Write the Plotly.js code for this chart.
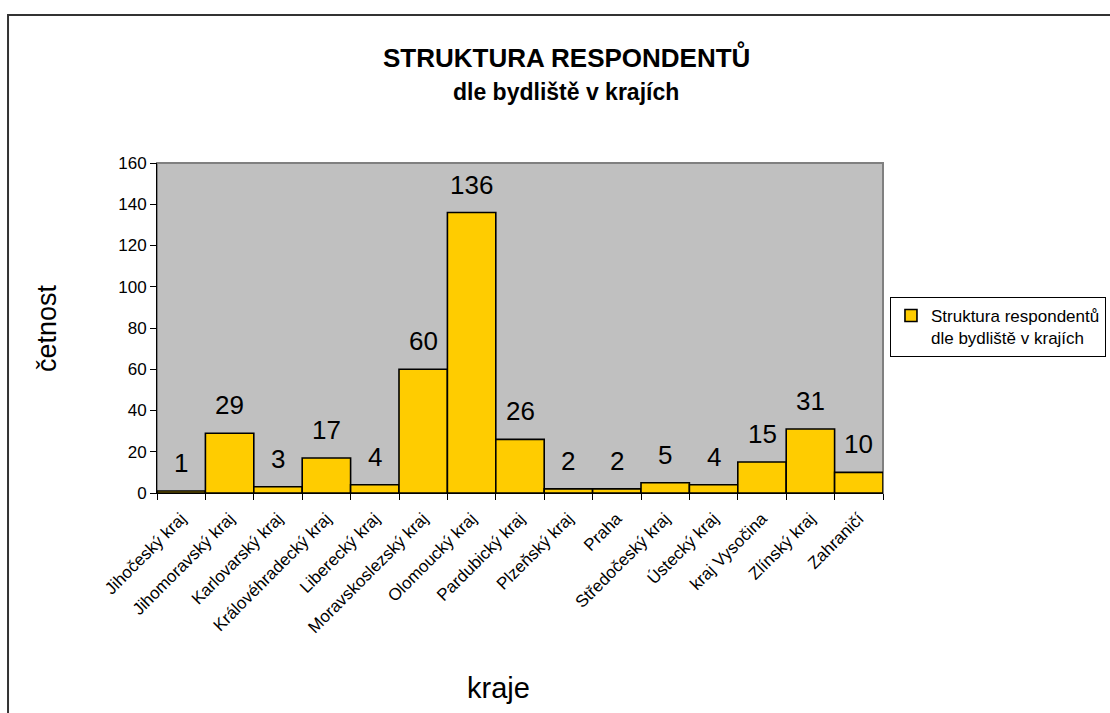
<!DOCTYPE html>
<html>
<head>
<meta charset="utf-8">
<script src="https://cdn.plot.ly/plotly-3.0.1.min.js"></script>
<style>html,body{margin:0;padding:0;background:#fff;}#chart{width:1110px;height:713px;}</style>
</head>
<body>
<div id="chart"></div>
<script>
const categories = ["Jihočeský kraj","Jihomoravský kraj","Karlovarský kraj","Královéhradecký kraj","Liberecký kraj","Moravskoslezský kraj","Olomoucký kraj","Pardubický kraj","Plzeňský kraj","Praha","Středočeský kraj","Ústecký kraj","kraj Vysočina","Zlínský kraj","Zahraničí"];
const counts = [1,29,3,17,4,60,136,26,2,2,5,4,15,31,10];
const yTicks = [0,20,40,60,80,100,120,140,160];
const seriesName = "Struktura respondentů<br>dle bydliště v krajích";

const FONT = "Liberation Sans, Arial, sans-serif";

const trace = {
  type: 'bar',
  x: categories,
  y: counts,
  name: seriesName,
  marker: {color: '#FFCC00', line: {color: '#000', width: 1.6}},
  showlegend: true,
  hoverinfo: 'none'
};

const valueLabels = categories.map((c, i) => ({
  x: c, y: counts[i], xref: 'x', yref: 'y',
  text: String(counts[i]), showarrow: false,
  xanchor: 'center', yanchor: 'bottom', yshift: 11,
  font: {family: FONT, size: 26, color: '#000'}
}));

const layout = {
  width: 1110, height: 713,
  margin: {l: 157, r: 227, t: 163, b: 220, autoexpand: false},
  paper_bgcolor: '#fff',
  plot_bgcolor: '#C0C0C0',
  bargap: 0,
  font: {family: FONT, color: '#000'},
  showlegend: true,
  legend: {
    x: 1.0096, y: 0.594, xanchor: 'left', yanchor: 'top',
    bordercolor: '#000', borderwidth: 1, bgcolor: '#fff',
    font: {family: FONT, size: 17, color: '#000'},
    itemwidth: 30, valign: 'top'
  },
  xaxis: {
    type: 'category',
    tickangle: -45,
    tickson: 'boundaries',
    ticks: 'outside', ticklen: 6, tickcolor: '#000',
    ticklabelstandoff: 8,
    showline: true, linecolor: '#000', linewidth: 1,
    showgrid: false,
    tickfont: {family: FONT, size: 17, color: '#000'},
    automargin: false,
    fixedrange: true
  },
  yaxis: {
    range: [0, 160],
    tickvals: yTicks,
    ticktext: yTicks.map(String),
    ticks: 'outside', ticklen: 6, tickcolor: '#000',
    showline: true, linecolor: '#000', linewidth: 1,
    showgrid: false, zeroline: false,
    tickfont: {family: FONT, size: 17, color: '#000'},
    automargin: false,
    fixedrange: true
  },
  shapes: [
    {type: 'rect', xref: 'paper', yref: 'paper', x0: 0, x1: 1, y0: 0, y1: 1,
     line: {color: '#808080', width: 2}, layer: 'below'},
    {type: 'rect', xref: 'paper', yref: 'paper', x0: -0.2052, x1: 2, y0: -1, y1: 1.4485,
     line: {color: '#333', width: 2}, layer: 'above'}
  ],
  annotations: [
    {text: '<b>STRUKTURA RESPONDENTŮ</b>', xref: 'paper', yref: 'paper', x: 0.5634, y: 1.321,
     xanchor: 'center', yanchor: 'middle',
     showarrow: false, font: {family: FONT, size: 26, color: '#000'}},
    {text: '<b>dle bydliště v krajích</b>', xref: 'paper', yref: 'paper', x: 0.5634, y: 1.215,
     xanchor: 'center', yanchor: 'middle',
     showarrow: false, font: {family: FONT, size: 23, color: '#000'}},
    {text: 'četnost', xref: 'paper', yref: 'paper', x: -0.1515, y: 0.5, textangle: -90,
     xanchor: 'center', yanchor: 'middle',
     showarrow: false, font: {family: FONT, size: 27, color: '#000'}},
    {text: 'kraje', xref: 'paper', yref: 'paper', x: 0.4697, y: -0.591,
     xanchor: 'center', yanchor: 'middle',
     showarrow: false, font: {family: FONT, size: 29, color: '#000'}}
  ].concat(valueLabels)
};

Plotly.newPlot('chart', [trace], layout, {staticPlot: true, displayModeBar: false});
</script>
</body>
</html>
